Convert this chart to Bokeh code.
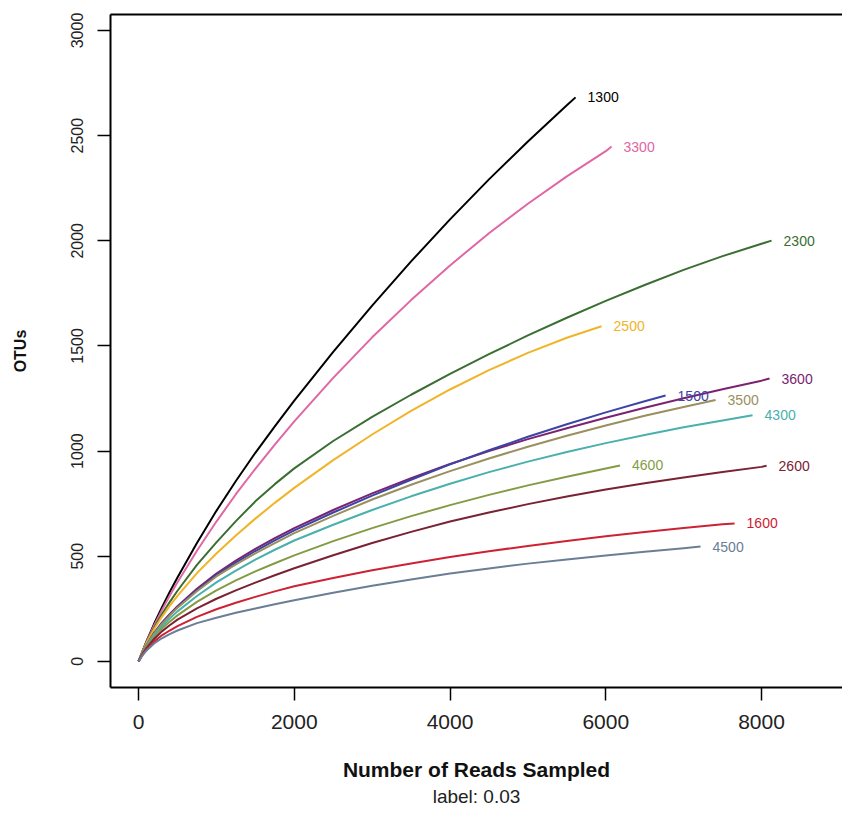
from bokeh.plotting import figure
from bokeh.models import Range1d, FixedTicker, LinearAxis, Title
from bokeh.core.properties import value
from bokeh.embed import file_html
from bokeh.resources import INLINE

# ---- data ----
READ_GRID = [0, 50, 100, 200, 300, 400, 500, 750, 1000, 1250, 1500, 1750, 2000,
             2500, 3000, 3500, 4000, 4500, 5000, 5500, 6000, 6500, 7000, 7500, 8000]

SAMPLES = ["1300", "3300", "2300", "2500", "3600", "1500", "3500", "4300", "4600", "2600", "1600", "4500"]
FINAL_READS = [5612, 6074, 8129, 5946, 8103, 6768, 7410, 7885, 6183, 8065, 7654, 7217]

otus_1300 = [0, 48, 94, 179, 257, 330, 399, 563, 716, 858, 992, 1118, 1240, 1472, 1692, 1902, 2102,
             2292, 2472, 2644, 2682]
otus_3300 = [0, 47, 91, 171, 244, 312, 376, 526, 665, 795, 916, 1031, 1141, 1348, 1541, 1718, 1883,
             2036, 2176, 2306, 2426, 2448]
otus_2300 = [0, 46, 88, 160, 224, 282, 336, 459, 566, 667, 761, 843, 918, 1048, 1163, 1268, 1367,
             1461, 1550, 1634, 1714, 1790, 1862, 1927, 1986, 2001]
otus_2500 = [0, 45, 86, 154, 212, 264, 312, 420, 513, 599, 679, 754, 825, 957, 1079, 1191, 1293,
             1385, 1467, 1539, 1594]
otus_3600 = [0, 40, 76, 136, 184, 225, 262, 345, 418, 479, 535, 586, 634, 720, 799, 871, 939,
             1000, 1057, 1109, 1159, 1206, 1251, 1294, 1335, 1345]
otus_1500 = [0, 40, 75, 133, 180, 220, 257, 338, 410, 470, 525, 575, 623, 708, 788, 864, 937,
             1004, 1068, 1128, 1184, 1237, 1264]
otus_3500 = [0, 40, 75, 132, 178, 218, 255, 334, 404, 461, 514, 563, 610, 692, 770, 840, 905,
             965, 1021, 1073, 1122, 1168, 1210, 1243]
otus_4300 = [0, 38, 71, 124, 167, 204, 238, 311, 376, 432, 484, 531, 575, 650, 720, 785, 845,
             900, 950, 996, 1038, 1077, 1113, 1146, 1170]
otus_4600 = [0, 36, 67, 116, 156, 189, 219, 283, 338, 385, 428, 467, 504, 572, 634, 691, 743,
             792, 837, 878, 917, 932]
otus_2600 = [0, 34, 62, 107, 143, 172, 199, 252, 298, 338, 375, 410, 443, 505, 563, 616, 665,
             708, 748, 784, 817, 847, 875, 901, 925, 930]
otus_1600 = [0, 31, 56, 94, 124, 147, 168, 212, 248, 279, 307, 333, 357, 397, 433, 466, 497,
             524, 549, 573, 595, 615, 634, 652, 656]
otus_4500 = [0, 28, 51, 85, 110, 130, 147, 182, 208, 231, 252, 272, 291, 327, 360, 390, 418,
             442, 465, 485, 504, 522, 538, 546]

OTUS = [otus_1300, otus_3300, otus_2300, otus_2500, otus_3600, otus_1500,
        otus_3500, otus_4300, otus_4600, otus_2600, otus_1600, otus_4500]

COLORS = ["#000000", "#E066A6", "#3B6E33", "#F0B429", "#7B2370", "#3C45A5",
          "#9A8F5E", "#4AB0AD", "#849B45", "#7A2233", "#CC2233", "#6A7E96"]

X_TICKS = [0, 2000, 4000, 6000, 8000]
Y_TICKS = [0, 500, 1000, 1500, 2000, 2500, 3000]

FONT = "Liberation Sans"

p = figure(width=842, height=808, output_backend="svg", toolbar_location=None,
           x_range=Range1d(-360, 9040), y_range=Range1d(-124, 3076),
           min_border_left=110, min_border_right=0, min_border_top=14, min_border_bottom=121)
p.outline_line_color = None
p.grid.visible = False
p.background_fill_color = "white"
p.border_fill_color = "white"

# curves
for name, final, otus, col in zip(SAMPLES, FINAL_READS, OTUS, COLORS):
    xs = [g for g in READ_GRID if g < final] + [final]
    p.line(xs, otus, line_color=col, line_width=2, line_join="round")

# end labels
p.text(x=FINAL_READS, y=[o[-1] for o in OTUS], text=SAMPLES, text_color=COLORS,
       x_offset=12, text_align="left", text_baseline="middle",
       text_font=value(FONT), text_font_size="14px")

# x axis
xa = p.xaxis[0]
xa.ticker = FixedTicker(ticks=X_TICKS)
xa.minor_tick_line_color = None
xa.major_tick_in = 0
xa.major_tick_out = 13
xa.major_tick_line_width = 1.5
xa.axis_line_width = 2
xa.major_label_standoff = 14
xa.major_label_text_font = FONT
xa.major_label_text_font_size = "21px"
xa.major_label_text_color = "#222222"
xa.axis_label = "Number of Reads Sampled"
xa.axis_label_text_font = FONT
xa.axis_label_text_font_style = "bold"
xa.axis_label_text_font_size = "21px"
xa.axis_label_standoff = 26
xa.axis_label_text_color = "#111111"

# y axis
ya = p.yaxis[0]
ya.ticker = FixedTicker(ticks=Y_TICKS)
ya.minor_tick_line_color = None
ya.major_tick_in = 0
ya.major_tick_out = 13
ya.major_tick_line_width = 1.5
ya.axis_line_width = 2
ya.major_label_orientation = "parallel"
ya.major_label_standoff = 14
ya.major_label_text_font = FONT
ya.major_label_text_font_size = "16px"
ya.major_label_text_color = "#222222"
ya.axis_label = "OTUs"
ya.axis_label_text_font = FONT
ya.axis_label_text_font_style = "bold"
ya.axis_label_text_font_size = "16px"
ya.axis_label_standoff = 40
ya.axis_label_text_color = "#111111"

# top border of the box (the right side is cut off in the reference)
top = LinearAxis(ticker=FixedTicker(ticks=[]), major_tick_out=0, major_tick_in=0,
                 major_label_text_font_size="0px", major_label_standoff=0,
                 axis_line_width=2, minor_tick_line_color=None)
p.add_layout(top, "above")

p.add_layout(Title(text="label: 0.03", align="center", text_font=FONT,
                   text_font_size="19px", text_font_style="normal",
                   text_color="#222222", standoff=0), "below")

open("out.html", "w").write(file_html(p, INLINE))
